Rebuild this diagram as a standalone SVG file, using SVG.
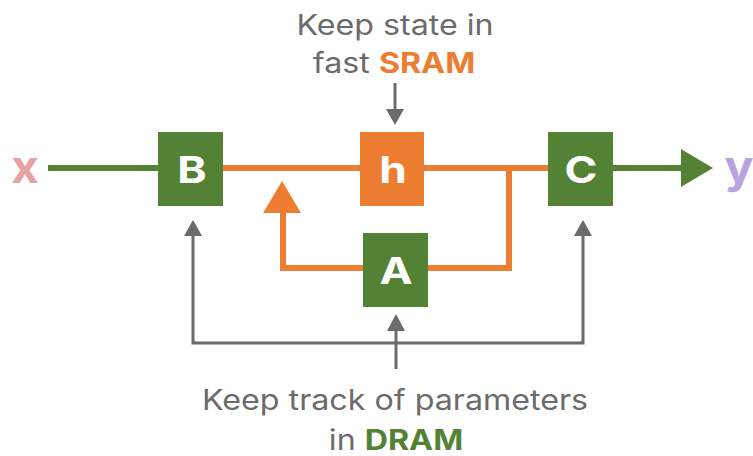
<svg xmlns="http://www.w3.org/2000/svg" width="753" height="456" viewBox="0 0 753 456">
<style>
.g{fill:#548235}
.o{fill:#ED7D31}
.lbl{font-family:Inter,"Liberation Sans",sans-serif;font-weight:700;fill:#fff;text-anchor:middle;font-size:37px}
.t{font-family:Inter,"Liberation Sans",sans-serif;font-size:28px;fill:#6b6b6b;text-anchor:middle}
.b{font-weight:700}
.ol{fill:none;stroke:#ED7D31;stroke-width:6}
.gl{fill:none;stroke:#548235;stroke-width:6}
.gr{fill:none;stroke:#6b6b6b;stroke-width:3}
</style>
<rect width="753" height="456" fill="#fff"/>
<g id="connectors">
<line class="gl" x1="48" y1="168" x2="158" y2="168"/>
<line class="gl" x1="613" y1="168" x2="684" y2="168"/>
<polygon class="g" points="681,149 713,168 681,187"/>
<line class="ol" x1="223" y1="168" x2="360" y2="168"/>
<line class="ol" x1="424" y1="168" x2="548" y2="168"/>
<polyline class="ol" points="509,168 509,268 428,268"/>
<polyline class="ol" points="363,268 283,268 283,210"/>
<polygon class="o" points="263,213 282,181 301,213"/>
<line class="gr" x1="395" y1="83" x2="395" y2="112"/>
<polygon fill="#6b6b6b" points="386,109 404,109 395,125"/>
<polyline class="gr" points="193,234 193,343 583,343 583,234"/>
<polygon fill="#6b6b6b" points="184,236 202,236 193,220"/>
<polygon fill="#6b6b6b" points="574,236 592,236 583,220"/>
<line class="gr" x1="396" y1="369" x2="396" y2="328"/>
<polygon fill="#6b6b6b" points="387,331 405,331 396,314"/>
</g>
<g id="node-B"><rect class="g" x="158" y="132" width="65" height="74"/><text class="lbl" transform="translate(192,183) scale(1.2,1)">B</text></g>
<g id="node-h"><rect class="o" x="360" y="132" width="64" height="74"/><text class="lbl" transform="translate(393,183) scale(1.2,1)">h</text></g>
<g id="node-C"><rect class="g" x="548" y="132" width="65" height="74"/><text class="lbl" transform="translate(581,183) scale(1.2,1)">C</text></g>
<g id="node-A"><rect class="g" x="363" y="233" width="65" height="74"/><text class="lbl" transform="translate(396,284) scale(1.2,1)">A</text></g>
<g id="label-x"><text transform="translate(25,183) scale(1.05,1)" font-family="Inter,'Liberation Sans',sans-serif" font-weight="700" font-size="46" fill="#E6A2A2" text-anchor="middle">x</text></g>
<g id="label-y"><text transform="translate(739,183) scale(1.05,1)" font-family="Inter,'Liberation Sans',sans-serif" font-weight="700" font-size="46" fill="#B9A2E0" text-anchor="middle">y</text></g>
<g id="label-top"><text class="t" transform="translate(395,35) scale(1.15,1)">Keep state in</text><text class="t" transform="translate(394,73) scale(1.15,1)">fast <tspan class="b" fill="#ED7D31">SRAM</tspan></text></g>
<g id="label-bottom"><text class="t" transform="translate(395,410) scale(1.15,1)">Keep track of parameters</text><text class="t" transform="translate(396,450) scale(1.15,1)">in <tspan class="b" fill="#548235">DRAM</tspan></text></g>
</svg>
